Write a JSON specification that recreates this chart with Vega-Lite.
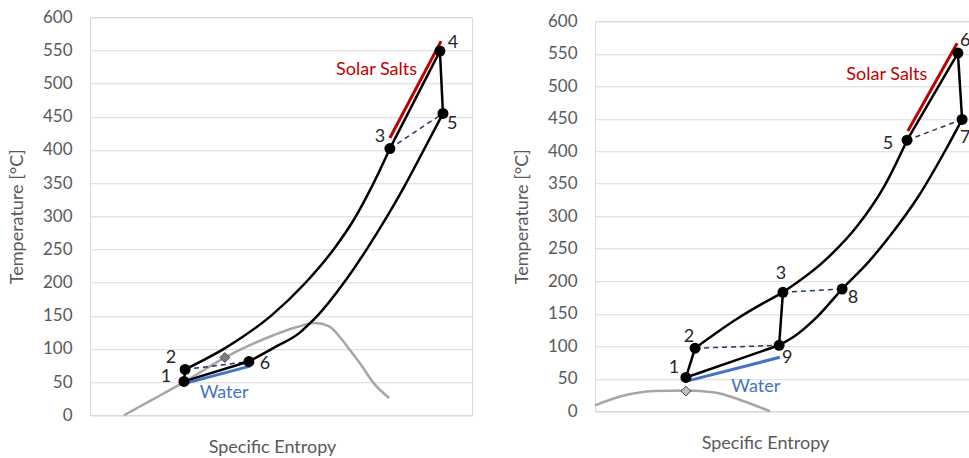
{
  "$schema": "https://vega.github.io/schema/vega-lite/v6.json",
  "padding": {"left": 7, "top": 7, "right": 0, "bottom": 0},
  "spacing": 39,
  "center": true,
  "datasets": {
    "L": [
      {"g": "sat", "x": 0.89, "y": 0},
      {"g": "sat", "x": 1.68, "y": 25},
      {"g": "sat", "x": 2.46, "y": 50},
      {"g": "sat", "x": 3.53, "y": 87},
      {"g": "sat", "x": 4.82, "y": 121},
      {"g": "sat", "x": 5.42, "y": 133},
      {"g": "sat", "x": 5.89, "y": 139},
      {"g": "sat", "x": 6.26, "y": 134},
      {"g": "sat", "x": 6.54, "y": 118},
      {"g": "sat", "x": 6.81, "y": 98},
      {"g": "sat", "x": 7.07, "y": 78},
      {"g": "sat", "x": 7.43, "y": 48},
      {"g": "sat", "x": 7.83, "y": 26},
      {"g": "water", "x": 2.49, "y": 48},
      {"g": "water", "x": 4.19, "y": 74},
      {"g": "salt", "x": 7.85, "y": 418},
      {"g": "salt", "x": 9.19, "y": 564},
      {"g": "dash", "s": "a", "x": 2.49, "y": 69},
      {"g": "dash", "s": "a", "x": 4.16, "y": 81},
      {"g": "dash", "s": "b", "x": 7.85, "y": 402},
      {"g": "dash", "s": "b", "x": 9.24, "y": 455},
      {"g": "cyc", "s": "A", "o": 1, "x": 2.46, "y": 51},
      {"g": "cyc", "s": "A", "o": 2, "x": 2.49, "y": 69},
      {"g": "cyc", "s": "B", "o": 1, "x": 2.49, "y": 69},
      {"g": "cyc", "s": "B", "o": 2, "x": 3.59, "y": 103},
      {"g": "cyc", "s": "B", "o": 3, "x": 4.76, "y": 151},
      {"g": "cyc", "s": "B", "o": 4, "x": 5.63, "y": 199},
      {"g": "cyc", "s": "B", "o": 5, "x": 6.39, "y": 251},
      {"g": "cyc", "s": "B", "o": 6, "x": 6.93, "y": 297},
      {"g": "cyc", "s": "B", "o": 7, "x": 7.38, "y": 345},
      {"g": "cyc", "s": "B", "o": 8, "x": 7.85, "y": 402},
      {"g": "cyc", "s": "C", "o": 1, "x": 7.85, "y": 402},
      {"g": "cyc", "s": "C", "o": 2, "x": 9.16, "y": 549},
      {"g": "cyc", "s": "D", "o": 1, "x": 9.16, "y": 549},
      {"g": "cyc", "s": "D", "o": 2, "x": 9.24, "y": 455},
      {"g": "cyc", "s": "E", "o": 1, "x": 4.16, "y": 81},
      {"g": "cyc", "s": "E", "o": 2, "x": 4.82, "y": 102},
      {"g": "cyc", "s": "E", "o": 3, "x": 5.5, "y": 125},
      {"g": "cyc", "s": "E", "o": 4, "x": 5.76, "y": 139},
      {"g": "cyc", "s": "E2", "o": 1, "x": 5.76, "y": 139},
      {"g": "cyc", "s": "E2", "o": 2, "x": 5.97, "y": 151},
      {"g": "cyc", "s": "E2", "o": 3, "x": 6.65, "y": 200},
      {"g": "cyc", "s": "E2", "o": 4, "x": 7.23, "y": 249},
      {"g": "cyc", "s": "E2", "o": 5, "x": 7.77, "y": 299},
      {"g": "cyc", "s": "E2", "o": 6, "x": 8.22, "y": 344},
      {"g": "cyc", "s": "E2", "o": 7, "x": 8.72, "y": 398},
      {"g": "cyc", "s": "E2", "o": 8, "x": 9.24, "y": 455},
      {"g": "cyc", "s": "F", "o": 1, "x": 2.46, "y": 51},
      {"g": "cyc", "s": "F", "o": 2, "x": 4.16, "y": 81},
      {"g": "pt", "x": 2.46, "y": 51},
      {"g": "pt", "x": 2.49, "y": 69},
      {"g": "pt", "x": 4.16, "y": 81},
      {"g": "pt", "x": 7.85, "y": 402},
      {"g": "pt", "x": 9.16, "y": 549},
      {"g": "pt", "x": 9.24, "y": 455},
      {"g": "dia", "x": 3.53, "y": 87},
      {"g": "num", "t": "1", "x": 1.99, "y": 57},
      {"g": "num", "t": "2", "x": 2.12, "y": 86},
      {"g": "num", "t": "6", "x": 4.58, "y": 78},
      {"g": "num", "t": "3", "x": 7.59, "y": 419},
      {"g": "num", "t": "4", "x": 9.5, "y": 561},
      {"g": "num", "t": "5", "x": 9.48, "y": 439},
      {"g": "saltlab", "t": "Solar Salts", "x": 7.5, "y": 520},
      {"g": "waterlab", "t": "Water", "x": 3.51, "y": 33}
    ],
    "R": [
      {"g": "sat", "x": 0, "y": 9},
      {"g": "sat", "x": 0.68, "y": 23},
      {"g": "sat", "x": 1.57, "y": 31},
      {"g": "sat", "x": 2.36, "y": 32},
      {"g": "sat", "x": 3.14, "y": 29},
      {"g": "sat", "x": 3.82, "y": 17},
      {"g": "sat", "x": 4.58, "y": 0},
      {"g": "water", "x": 2.38, "y": 46},
      {"g": "water", "x": 4.84, "y": 83},
      {"g": "salt", "x": 8.19, "y": 431},
      {"g": "salt", "x": 9.48, "y": 566},
      {"g": "dash", "s": "a", "x": 2.62, "y": 97},
      {"g": "dash", "s": "a", "x": 4.82, "y": 101.5},
      {"g": "dash", "s": "b", "x": 4.92, "y": 183},
      {"g": "dash", "s": "b", "x": 6.47, "y": 188},
      {"g": "dash", "s": "c", "x": 8.17, "y": 417},
      {"g": "dash", "s": "c", "x": 9.61, "y": 449},
      {"g": "cyc", "s": "A", "o": 1, "x": 2.38, "y": 52},
      {"g": "cyc", "s": "A", "o": 2, "x": 2.62, "y": 97},
      {"g": "cyc", "s": "B", "o": 1, "x": 2.62, "y": 97},
      {"g": "cyc", "s": "B", "o": 2, "x": 3.74, "y": 143},
      {"g": "cyc", "s": "B", "o": 3, "x": 4.92, "y": 183},
      {"g": "cyc", "s": "C", "o": 1, "x": 4.92, "y": 183},
      {"g": "cyc", "s": "C", "o": 2, "x": 6.02, "y": 232},
      {"g": "cyc", "s": "C", "o": 3, "x": 6.88, "y": 286},
      {"g": "cyc", "s": "C", "o": 4, "x": 7.59, "y": 348},
      {"g": "cyc", "s": "C", "o": 5, "x": 8.17, "y": 417},
      {"g": "cyc", "s": "D", "o": 1, "x": 8.17, "y": 417},
      {"g": "cyc", "s": "D", "o": 2, "x": 9.5, "y": 551},
      {"g": "cyc", "s": "E", "o": 1, "x": 9.5, "y": 551},
      {"g": "cyc", "s": "E", "o": 2, "x": 9.61, "y": 449},
      {"g": "cyc", "s": "F", "o": 1, "x": 4.82, "y": 101.5},
      {"g": "cyc", "s": "F", "o": 2, "x": 5.24, "y": 116},
      {"g": "cyc", "s": "F", "o": 3, "x": 5.76, "y": 142},
      {"g": "cyc", "s": "F", "o": 4, "x": 6.47, "y": 188},
      {"g": "cyc", "s": "F", "o": 5, "x": 7.15, "y": 229},
      {"g": "cyc", "s": "F", "o": 6, "x": 7.75, "y": 272},
      {"g": "cyc", "s": "F", "o": 7, "x": 8.46, "y": 330},
      {"g": "cyc", "s": "F", "o": 8, "x": 9.16, "y": 400},
      {"g": "cyc", "s": "F", "o": 9, "x": 9.61, "y": 449},
      {"g": "cyc", "s": "G", "o": 1, "x": 4.82, "y": 101.5},
      {"g": "cyc", "s": "G", "o": 2, "x": 4.92, "y": 183},
      {"g": "cyc", "s": "H", "o": 1, "x": 2.38, "y": 52},
      {"g": "cyc", "s": "H", "o": 2, "x": 4.82, "y": 101.5},
      {"g": "pt", "x": 2.38, "y": 52},
      {"g": "pt", "x": 2.62, "y": 97},
      {"g": "pt", "x": 4.82, "y": 101.5},
      {"g": "pt", "x": 4.92, "y": 183},
      {"g": "pt", "x": 6.47, "y": 188},
      {"g": "pt", "x": 8.17, "y": 417},
      {"g": "pt", "x": 9.5, "y": 551},
      {"g": "pt", "x": 9.61, "y": 449},
      {"g": "dia", "x": 2.38, "y": 31},
      {"g": "num", "t": "1", "x": 2.07, "y": 66},
      {"g": "num", "t": "2", "x": 2.46, "y": 115},
      {"g": "num", "t": "3", "x": 4.87, "y": 211},
      {"g": "num", "t": "9", "x": 5.03, "y": 82},
      {"g": "num", "t": "8", "x": 6.75, "y": 174},
      {"g": "num", "t": "5", "x": 7.67, "y": 411},
      {"g": "num", "t": "7", "x": 9.69, "y": 420},
      {"g": "num", "t": "6", "x": 9.69, "y": 569},
      {"g": "saltlab", "t": "Solar Salts", "x": 7.64, "y": 517},
      {"g": "waterlab", "t": "Water", "x": 4.21, "y": 37}
    ]
  },
  "config": {
    "font": "Lato",
    "view": {"stroke": "#d9d9d9", "strokeWidth": 1},
    "axis": {
      "labelFont": "Lato", "titleFont": "Lato",
      "labelColor": "#595959", "titleColor": "#595959",
      "labelFontSize": 17, "titleFontSize": 18, "titleFontWeight": "normal",
      "gridColor": "#d9d9d9", "domainColor": "#d9d9d9", "ticks": false
    }
  },
  "hconcat": [
    {
      "width": 382, "height": 398,
      "data": {"name": "L"},
      "encoding": {
        "x": {"field": "x", "type": "quantitative", "scale": {"domain": [0, 10], "nice": false},
              "axis": {"title": "Specific Entropy", "labels": false, "grid": false, "titlePadding": 23, "titleX": 182}},
        "y": {"field": "y", "type": "quantitative", "scale": {"domain": [0, 600], "nice": false},
              "axis": {"title": "Temperature [°C]", "values": [0,50,100,150,200,250,300,350,400,450,500,550,600], "labelPadding": 18, "titlePadding": 16}}
      },
      "layer": [
        {"transform": [{"filter": "datum.g == 'sat'"}], "mark": {"type": "line", "interpolate": "monotone", "color": "#a6a6a6", "strokeWidth": 2.5}},
        {"transform": [{"filter": "datum.g == 'water'"}], "mark": {"type": "line", "color": "#4472c4", "strokeWidth": 3}},
        {"transform": [{"filter": "datum.g == 'salt'"}], "mark": {"type": "line", "color": "#c00000", "strokeWidth": 3}},
        {"transform": [{"filter": "datum.g == 'dash'"}], "mark": {"type": "line", "color": "#1f3864", "strokeWidth": 1.5, "strokeDash": [5, 4]}, "encoding": {"detail": {"field": "s"}}},
        {"transform": [{"filter": "datum.g == 'cyc'"}], "mark": {"type": "line", "interpolate": "monotone", "color": "#000000", "strokeWidth": 2.5}, "encoding": {"detail": {"field": "s"}, "order": {"field": "o", "type": "quantitative"}}},
        {"transform": [{"filter": "datum.g == 'pt'"}], "mark": {"type": "point", "filled": true, "color": "#000000", "size": 120, "opacity": 1}},
        {"transform": [{"filter": "datum.g == 'dia'"}], "mark": {"type": "point", "shape": "diamond", "filled": true, "fill": "#7f7f7f", "stroke": "#404040", "strokeWidth": 1, "size": 95, "opacity": 1}},
        {"transform": [{"filter": "datum.g == 'num'"}], "mark": {"type": "text", "fontSize": 18, "color": "#262626", "align": "center", "baseline": "middle"}, "encoding": {"text": {"field": "t"}}},
        {"transform": [{"filter": "datum.g == 'saltlab'"}], "mark": {"type": "text", "fontSize": 18, "color": "#c00000", "align": "center", "baseline": "middle"}, "encoding": {"text": {"field": "t"}}},
        {"transform": [{"filter": "datum.g == 'waterlab'"}], "mark": {"type": "text", "fontSize": 18, "color": "#4472c4", "align": "center", "baseline": "middle"}, "encoding": {"text": {"field": "t"}}}
      ]
    },
    {
      "width": 382, "height": 390,
      "data": {"name": "R"},
      "encoding": {
        "x": {"field": "x", "type": "quantitative", "scale": {"domain": [0, 10], "nice": false},
              "axis": {"title": "Specific Entropy", "labels": false, "grid": false, "titlePadding": 23, "titleX": 170}},
        "y": {"field": "y", "type": "quantitative", "scale": {"domain": [0, 600], "nice": false},
              "axis": {"title": "Temperature [°C]", "values": [0,50,100,150,200,250,300,350,400,450,500,550,600], "labelPadding": 18, "titlePadding": 16}}
      },
      "layer": [
        {"transform": [{"filter": "datum.g == 'sat'"}], "mark": {"type": "line", "interpolate": "monotone", "color": "#a6a6a6", "strokeWidth": 2.5}},
        {"transform": [{"filter": "datum.g == 'water'"}], "mark": {"type": "line", "color": "#4472c4", "strokeWidth": 3}},
        {"transform": [{"filter": "datum.g == 'salt'"}], "mark": {"type": "line", "color": "#c00000", "strokeWidth": 3}},
        {"transform": [{"filter": "datum.g == 'dash'"}], "mark": {"type": "line", "color": "#1f3864", "strokeWidth": 1.5, "strokeDash": [5, 4]}, "encoding": {"detail": {"field": "s"}}},
        {"transform": [{"filter": "datum.g == 'cyc'"}], "mark": {"type": "line", "interpolate": "monotone", "color": "#000000", "strokeWidth": 2.5}, "encoding": {"detail": {"field": "s"}, "order": {"field": "o", "type": "quantitative"}}},
        {"transform": [{"filter": "datum.g == 'pt'"}], "mark": {"type": "point", "filled": true, "color": "#000000", "size": 120, "opacity": 1}},
        {"transform": [{"filter": "datum.g == 'dia'"}], "mark": {"type": "point", "shape": "diamond", "filled": true, "fill": "#bfbfbf", "stroke": "#404040", "strokeWidth": 1, "size": 95, "opacity": 1}},
        {"transform": [{"filter": "datum.g == 'num'"}], "mark": {"type": "text", "fontSize": 18, "color": "#262626", "align": "center", "baseline": "middle"}, "encoding": {"text": {"field": "t"}}},
        {"transform": [{"filter": "datum.g == 'saltlab'"}], "mark": {"type": "text", "fontSize": 18, "color": "#c00000", "align": "center", "baseline": "middle"}, "encoding": {"text": {"field": "t"}}},
        {"transform": [{"filter": "datum.g == 'waterlab'"}], "mark": {"type": "text", "fontSize": 18, "color": "#4472c4", "align": "center", "baseline": "middle"}, "encoding": {"text": {"field": "t"}}}
      ]
    }
  ]
}
